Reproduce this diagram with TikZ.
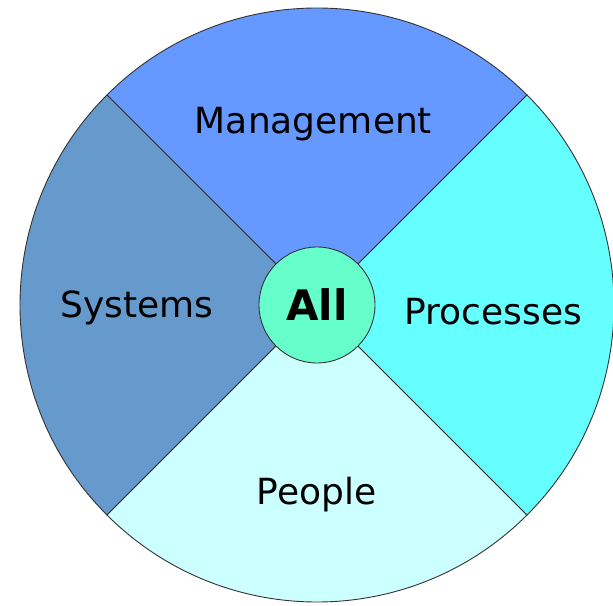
\documentclass[tikz,border=0pt]{standalone}
\usepackage{fontspec}
\setmainfont{DejaVu Sans}
\definecolor{mgmtblue}{RGB}{102,153,255}
\definecolor{sysblue}{RGB}{102,153,204}
\definecolor{proccyan}{RGB}{102,255,255}
\definecolor{peoplecyan}{RGB}{204,255,255}
\definecolor{allgreen}{RGB}{102,255,204}

\begin{document}
\begin{tikzpicture}[x=1pt,y=1pt,
  sector/.style={draw=black!80,line width=0.9pt},
  lbl/.style={anchor=base,inner sep=0pt,font=\fontsize{36}{40}\selectfont},
  hub/.style={draw=black!80,line width=0.9pt,circle,fill=allgreen,minimum size=116pt,inner sep=0pt,font=\fontsize{42}{46}\selectfont\bfseries}]
  \useasboundingbox (-317,-300) rectangle (296,305);
  % four quarters of the wheel
  \filldraw[sector,fill=mgmtblue] (0,0) -- (45:297) arc (45:135:297) -- cycle;
  \filldraw[sector,fill=sysblue] (0,0) -- (135:297) arc (135:225:297) -- cycle;
  \filldraw[sector,fill=peoplecyan] (0,0) -- (225:297) arc (225:315:297) -- cycle;
  \filldraw[sector,fill=proccyan] (0,0) -- (315:297) arc (315:405:297) -- cycle;
  \node[hub] (all) at (0,0) {All};
  \node[lbl] (mgmt) at (-3.5,171.3) {Management};
  \node[lbl] (sys) at (-180,-12) {Systems};
  \node[lbl] (proc) at (176.5,-19) {Processes};
  \node[lbl] (people) at (-0.5,-199) {People};
\end{tikzpicture}
\end{document}
